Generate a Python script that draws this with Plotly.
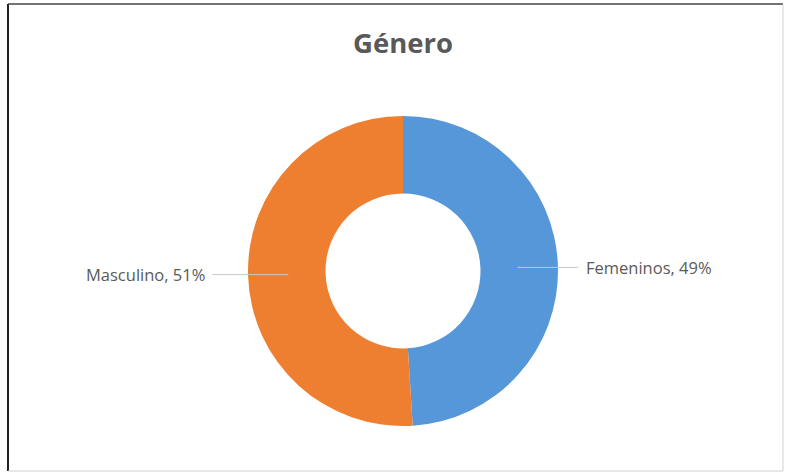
import math
import plotly.graph_objects as go

# Gender split
categories = ["Femeninos", "Masculino"]
shares = [49, 51]
colors = ["#5697D9", "#EE7F31"]

W, H = 786, 474
cx_px, cy_px, r_px = 403, 271, 155  # donut centre and outer radius (px)

fig = go.Figure(go.Pie(
    labels=categories,
    values=shares,
    hole=0.5,
    sort=False,
    direction="clockwise",
    rotation=0,
    textinfo="none",
    marker=dict(colors=colors, line=dict(width=0)),
    showlegend=False,
    domain=dict(x=[(cx_px - r_px) / W, (cx_px + r_px) / W],
                y=[1 - (cy_px + r_px) / H, 1 - (cy_px - r_px) / H]),
))

# Outside labels with horizontal leader lines, anchored at each slice's mid-angle
label_gap = {"Femeninos": (1.13, 1.17), "Masculino": (1.23, 1.265)}
total = sum(shares)
start = 0.0
shapes = []
annotations = []
for name, v in zip(categories, shares):
    frac = v / total
    mid = (start + frac / 2) * 2 * math.pi
    start += frac
    dx, dy = math.sin(mid), -math.cos(mid)
    line_out, text_r = label_gap[name]
    y_px = cy_px + dy * r_px * 0.74
    x0 = cx_px + dx * r_px * 0.74
    x1 = cx_px + (1 if dx > 0 else -1) * r_px * line_out
    shapes.append(dict(type="line", xref="paper", yref="paper",
                       x0=x0 / W, y0=1 - y_px / H, x1=x1 / W, y1=1 - y_px / H,
                       line=dict(color="#C8C8C8", width=1)))
    tx = cx_px + (1 if dx > 0 else -1) * r_px * text_r
    annotations.append(dict(
        x=tx / W, y=1 - y_px / H, xref="paper", yref="paper",
        text=f"{name}, {v}%", showarrow=False,
        xanchor="left" if dx > 0 else "right", yanchor="middle",
        font=dict(family="Open Sans, sans-serif", size=16.5, color="#5A5A5A"),
    ))

# Frame around the chart
shapes += [
    dict(type="line", xref="paper", yref="paper", x0=8 / W, x1=8 / W, y0=1 - 471 / H, y1=1 - 4 / H,
         line=dict(color="#222222", width=2)),
    dict(type="line", xref="paper", yref="paper", x0=8 / W, x1=783 / W, y0=1 - 4 / H, y1=1 - 4 / H,
         line=dict(color="#444444", width=1.5)),
    dict(type="line", xref="paper", yref="paper", x0=783 / W, x1=783 / W, y0=1 - 471 / H, y1=1 - 4 / H,
         line=dict(color="#D0D0D0", width=1)),
    dict(type="line", xref="paper", yref="paper", x0=8 / W, x1=783 / W, y0=1 - 471 / H, y1=1 - 471 / H,
         line=dict(color="#D0D0D0", width=1)),
]

fig.update_layout(
    width=W, height=H,
    margin=dict(l=0, r=0, t=0, b=0),
    paper_bgcolor="white", plot_bgcolor="white",
    title=dict(text="<b>Género</b>", x=cx_px / W, y=1 - 43 / H,
               xanchor="center", yanchor="middle",
               font=dict(family="Open Sans, sans-serif", size=27.5, color="#595959")),
    shapes=shapes,
    annotations=annotations,
)

fig.write_html("out.html")
